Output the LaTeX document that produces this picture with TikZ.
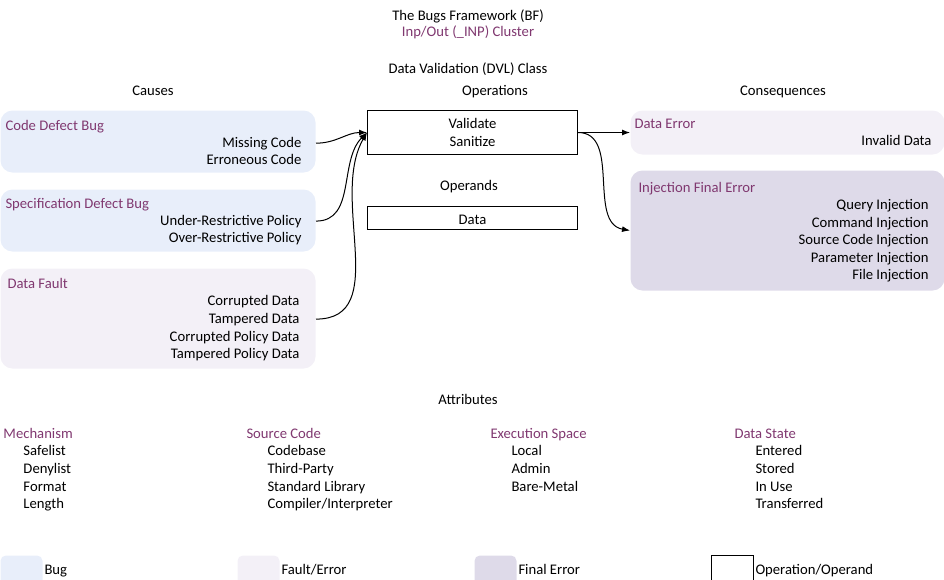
\documentclass[tikz,border=0pt]{standalone}
\usepackage{fontspec}
\setmainfont{Carlito}
\usetikzlibrary{arrows.meta}
\definecolor{bugfill}{RGB}{232,238,250}
\definecolor{faultfill}{RGB}{243,240,247}
\definecolor{finalfill}{RGB}{222,218,233}
\definecolor{bfpurple}{RGB}{128,56,112}
\begin{document}
\begin{tikzpicture}[x=0.75pt,y=-0.75pt,line width=0.75pt,font=\fontsize{11}{13}\selectfont]
        \tikzstyle{every node}=[inner sep=0pt];
        \tikzstyle{txt}=[anchor=base,yshift=-0.75pt];
        \tikzstyle{lft}=[anchor=base west,yshift=-0.75pt];
        \tikzstyle{rgt}=[anchor=base east,yshift=-0.75pt];
        \tikzstyle{head}=[lft,text=bfpurple];
        \tikzstyle{panel}=[rectangle,rounded corners=9pt,anchor=north west,minimum width=236.25pt];
        \tikzstyle{swatch}=[rectangle,rounded corners=4pt,anchor=north west,minimum width=31.5pt,minimum height=22.5pt];
        \tikzstyle{opbox}=[draw,rectangle,anchor=north west,minimum width=157.5pt,align=center];
        \tikzstyle{link}=[-{Latex[length=6pt,width=4.5pt]}];
        \useasboundingbox (0,0) rectangle (944,579);
        % titles
        \node[txt] (bf) at (468,19) {The Bugs Framework (BF)};
        \node[txt,text=bfpurple] (cluster) at (468,35) {Inp/Out (\_INP) Cluster};
        \node[txt] (cls) at (468,72) {Data Validation (DVL) Class};
        \node[txt] (causes) at (153,94) {Causes};
        \node[txt] (opers) at (495,94) {Operations};
        \node[txt] (conseq) at (783,94) {Consequences};
        % causes
        \node[panel,fill=bugfill,minimum height=46.5pt] (cdb) at (0,110) {};
        \node[head] (cdbt) at (5,129) {Code Defect Bug};
        \node[rgt] (missing) at (302,146) {Missing Code};
        \node[rgt] (erroneous) at (302,163.5) {Erroneous Code};
        \node[panel,fill=bugfill,minimum height=46.5pt] (sdb) at (0,189) {};
        \node[head] (sdbt) at (5,207) {Specification Defect Bug};
        \node[rgt] (under) at (302,224) {Under-Restrictive Policy};
        \node[rgt] (over) at (302,241.5) {Over-Restrictive Policy};
        \node[panel,fill=faultfill,minimum height=75pt] (dfault) at (0,268) {};
        \node[head] (dfaultt) at (7,287) {Data Fault};
        \node[rgt] (corrupted) at (300,304) {Corrupted Data};
        \node[rgt] (tampered) at (300,322) {Tampered Data};
        \node[rgt] (corrpol) at (300,340) {Corrupted Policy Data};
        \node[rgt] (tamppol) at (300,357) {Tampered Policy Data};
        % operations and operands
        \node[opbox,minimum height=33pt] (ops) at (367,110) {Validate\\Sanitize};
        \node[txt] (operands) at (469,189) {Operands};
        \node[opbox,minimum height=17.25pt,text height=9pt,text depth=0pt] (data) at (367,206) {Data};
        % consequences
        \node[panel,fill=faultfill,minimum width=235.5pt,minimum height=33pt] (derr) at (630,110) {};
        \node[head] (derrt) at (634,127) {Data Error};
        \node[rgt] (invalid) at (932,144) {Invalid Data};
        \node[panel,fill=finalfill,minimum width=235.5pt,minimum height=90pt] (inj) at (630,170) {};
        \node[head] (injt) at (638,191) {Injection Final Error};
        \node[rgt] (query) at (929,208) {Query Injection};
        \node[rgt] (command) at (929,226) {Command Injection};
        \node[rgt] (srccode) at (929,243) {Source Code Injection};
        \node[rgt] (param) at (929,261) {Parameter Injection};
        \node[rgt] (file) at (929,278) {File Injection};
        % connectors
        \draw[link] (cdb.east |- missing.east) to[out=0,in=180] (ops.west);
        \draw[link] (sdb.east |- under.east) to[out=0,in=225] (ops.west);
        \draw[link] (dfault.east |- tampered.east) to[out=0,in=240] (ops.west);
        \draw[link] (ops.east) -- (derr.west);
        \draw[link] (ops.east) to[out=0,in=170] (inj.west);
        % attributes
        \node[txt] (attrs) at (468,403) {Attributes};
        \node[head] (mech) at (3,437.5) {Mechanism};
        \node[lft] (safelist) at (23,454.5) {Safelist};
        \node[lft] (denylist) at (23,472.5) {Denylist};
        \node[lft] (format) at (23,490.5) {Format};
        \node[lft] (length) at (23,507.5) {Length};
        \node[head] (src) at (246,437.5) {Source Code};
        \node[lft] (codebase) at (267,454.5) {Codebase};
        \node[lft] (thirdparty) at (267,472.5) {Third-Party};
        \node[lft] (stdlib) at (267,490.5) {Standard Library};
        \node[lft] (compiler) at (267,507.5) {Compiler/Interpreter};
        \node[head] (exec) at (490,437.5) {Execution Space};
        \node[lft] (local) at (511,454.5) {Local};
        \node[lft] (admin) at (511,472.5) {Admin};
        \node[lft] (baremetal) at (511,490.5) {Bare-Metal};
        \node[head] (dstate) at (734,437.5) {Data State};
        \node[lft] (entered) at (755,454.5) {Entered};
        \node[lft] (stored) at (755,472.5) {Stored};
        \node[lft] (inuse) at (755,490.5) {In Use};
        \node[lft] (transferred) at (755,507.5) {Transferred};
        % legend
        \node[swatch,fill=bugfill] (lbug) at (0,555) {};
        \node[lft] (lbugt) at (44,573.5) {Bug};
        \node[swatch,fill=faultfill] (lfault) at (237,555) {};
        \node[lft] (lfaultt) at (281,573.5) {Fault/Error};
        \node[swatch,fill=finalfill] (lfinal) at (474,555) {};
        \node[lft] (lfinalt) at (518,573.5) {Final Error};
        \node[draw,rectangle,anchor=north west,minimum width=31.5pt,minimum height=22.5pt] (lop) at (711,555) {};
        \node[lft] (lopt) at (755,573.5) {Operation/Operand};
      \end{tikzpicture}
\end{document}
